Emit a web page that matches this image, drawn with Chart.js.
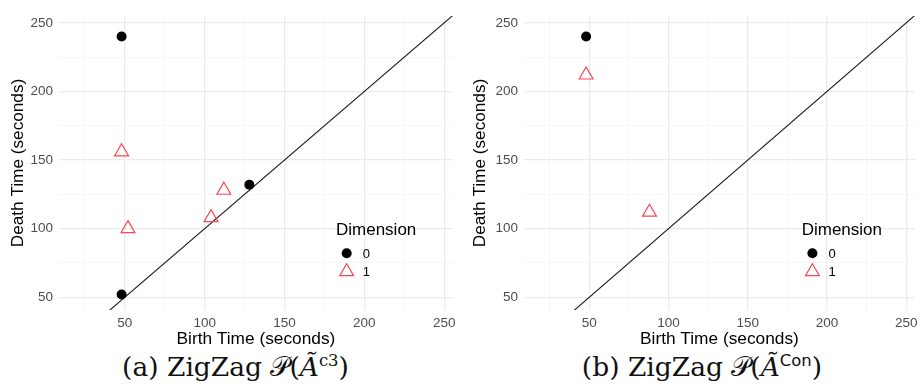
<!DOCTYPE html>
<html>
<head>
<meta charset="utf-8">
<script src="https://cdn.jsdelivr.net/npm/chart.js@4.4.1/dist/chart.umd.min.js"></script>
<style>
  html, body { margin: 0; padding: 0; background: #fff; }
  #wrap { position: relative; width: 924px; height: 388px; overflow: hidden; }
  .panel { position: absolute; top: 0; width: 462px; height: 350px; }
  .caption {
    position: absolute; top: 351px; text-align: center; white-space: nowrap;
    font-family: "DejaVu Serif", "Liberation Serif", serif; font-size: 26.5px; color: #111;
  }
  .caption sup { font-size: 62%; vertical-align: 0.62em; line-height: 0; }
  .caption .sans { font-family: "DejaVu Sans", sans-serif; }
</style>
</head>
<body>
<div id="wrap">
  <div class="panel" style="left:0"><canvas id="left" width="462" height="350"></canvas></div>
  <div class="panel" style="left:462px"><canvas id="right" width="462" height="350"></canvas></div>
  <div class="caption" style="left:0; width:471px">(a) ZigZag 𝒫(<i>Ã</i><sup>c3</sup>)</div>
  <div class="caption" style="left:462px; width:480px">(b) ZigZag 𝒫(<i>Ã</i><sup class="sans">Con</sup>)</div>
</div>
<script>
// persistence diagrams, (birth, death) in seconds
const c3Dim0 = [[48, 240], [48, 52], [128, 132]];
const c3Dim1 = [[48, 156], [52, 100], [104, 108], [112, 128]];
const conDim0 = [[48, 240]];
const conDim1 = [[48, 212], [88, 112]];

// identity line y = x
const diagonal = [0, 300];

const xGrid = [25, 50, 75, 100, 125, 150, 175, 200, 225, 250];
const yGrid = [50, 75, 100, 125, 150, 175, 200, 225, 250];
const axisMin = { x: 8.8, y: 40.7 };
const axisMax = { x: 255.4, y: 255 };

const legendTitle = "Dimension";
const legendLabels = ["0", "1"];

const RED = "rgb(247, 72, 84)";
const SANS = "'Liberation Sans', Arial, sans-serif";

const toPts = (arr) => arr.map(([x, y]) => ({ x, y }));

const dimLegend = {
  id: "dimLegend",
  afterDraw(chart, _args, opts) {
    const { ctx } = chart;
    ctx.save();
    ctx.fillStyle = "#000";
    ctx.font = `17px ${SANS}`;
    ctx.textBaseline = "middle";
    ctx.textAlign = "left";
    ctx.fillText(legendTitle, opts.x, opts.y);

    // dot
    ctx.beginPath();
    ctx.arc(opts.x + 10.7, opts.y + 23.3, 5, 0, Math.PI * 2);
    ctx.fill();
    // triangle
    const tx = opts.x + 10.7, ty = opts.y + 41.7, r = 8;
    ctx.beginPath();
    for (let i = 0; i < 3; i++) {
      const a = i * 2 * Math.PI / 3;
      const px = tx + Math.sin(a) * r, py = ty - Math.cos(a) * r;
      if (i === 0) ctx.moveTo(px, py); else ctx.lineTo(px, py);
    }
    ctx.closePath();
    ctx.strokeStyle = RED;
    ctx.lineWidth = 1.2;
    ctx.stroke();

    ctx.font = `13px ${SANS}`;
    ctx.fillStyle = "#000";
    ctx.fillText(legendLabels[0], opts.x + 26.7, opts.y + 24);
    ctx.fillText(legendLabels[1], opts.x + 26.7, opts.y + 42.5);
    ctx.restore();
  }
};

const gridOpts = {
  color: (c) => (c.tick && c.tick.value % 50 === 0 ? "#EBEBEB" : "#F4F4F4"),
  lineWidth: (c) => (c.tick && c.tick.value % 50 === 0 ? 1.3 : 0.8),
  drawTicks: false
};

const makePanel = (id, dim0, dim1, yWidth, padRight, legendPos) => {
  const ctx = document.getElementById(id).getContext("2d");
  return new Chart(ctx, {
    type: "scatter",
    data: {
      datasets: [
        {
          label: "0",
          data: toPts(dim0),
          pointStyle: "circle",
          pointRadius: 5,
          pointHoverRadius: 5,
          backgroundColor: "#000",
          borderWidth: 0,
          order: 0
        },
        {
          label: "1",
          data: toPts(dim1),
          pointStyle: "triangle",
          pointRadius: 8,
          pointHoverRadius: 8,
          backgroundColor: "rgba(0,0,0,0)",
          borderColor: RED,
          borderWidth: 1.2,
          order: 1
        },
        {
          type: "line",
          label: "diag",
          data: diagonal.map((v) => ({ x: v, y: v })),
          borderColor: "#1a1a1a",
          borderWidth: 1.1,
          pointRadius: 0,
          order: 2
        }
      ]
    },
    options: {
      responsive: false,
      animation: false,
      devicePixelRatio: 1,
      layout: { padding: { top: 16, right: padRight, bottom: 0, left: 0 } },
      plugins: {
        legend: { display: false },
        tooltip: { enabled: false },
        dimLegend: legendPos
      },
      scales: {
        x: {
          type: "linear",
          min: axisMin.x,
          max: axisMax.x,
          afterBuildTicks: (s) => { s.ticks = xGrid.map((v) => ({ value: v })); },
          afterFit: (s) => { s.height = 40; },
          border: { display: false },
          grid: gridOpts,
          ticks: {
            autoSkip: false,
            maxRotation: 0,
            padding: 5,
            color: "#4D4D4D",
            font: { family: SANS, size: 13.5 },
            callback: (v) => (v % 50 === 0 ? String(v) : "")
          },
          title: {
            display: true,
            text: "Birth Time (seconds)",
            color: "#000",
            font: { family: SANS, size: 17.3 },
            padding: { top: 0, bottom: 0 }
          }
        },
        y: {
          type: "linear",
          min: axisMin.y,
          max: axisMax.y,
          afterBuildTicks: (s) => { s.ticks = yGrid.map((v) => ({ value: v })); },
          afterFit: (s) => { s.width = yWidth; },
          border: { display: false },
          grid: gridOpts,
          ticks: {
            autoSkip: false,
            padding: 6,
            color: "#4D4D4D",
            font: { family: SANS, size: 13.5 },
            callback: (v) => (v % 50 === 0 ? String(v) : "")
          },
          title: {
            display: true,
            text: "Death Time (seconds)",
            color: "#000",
            font: { family: SANS, size: 17.2 },
            padding: { top: 8, bottom: 0 }
          }
        }
      }
    },
    plugins: [dimLegend]
  });
};

makePanel("left", c3Dim0, c3Dim1, 59, 6, { x: 336, y: 230 });
makePanel("right", conDim0, conDim1, 62, 2.3, { x: 339.7, y: 230 });
</script>
</body>
</html>
